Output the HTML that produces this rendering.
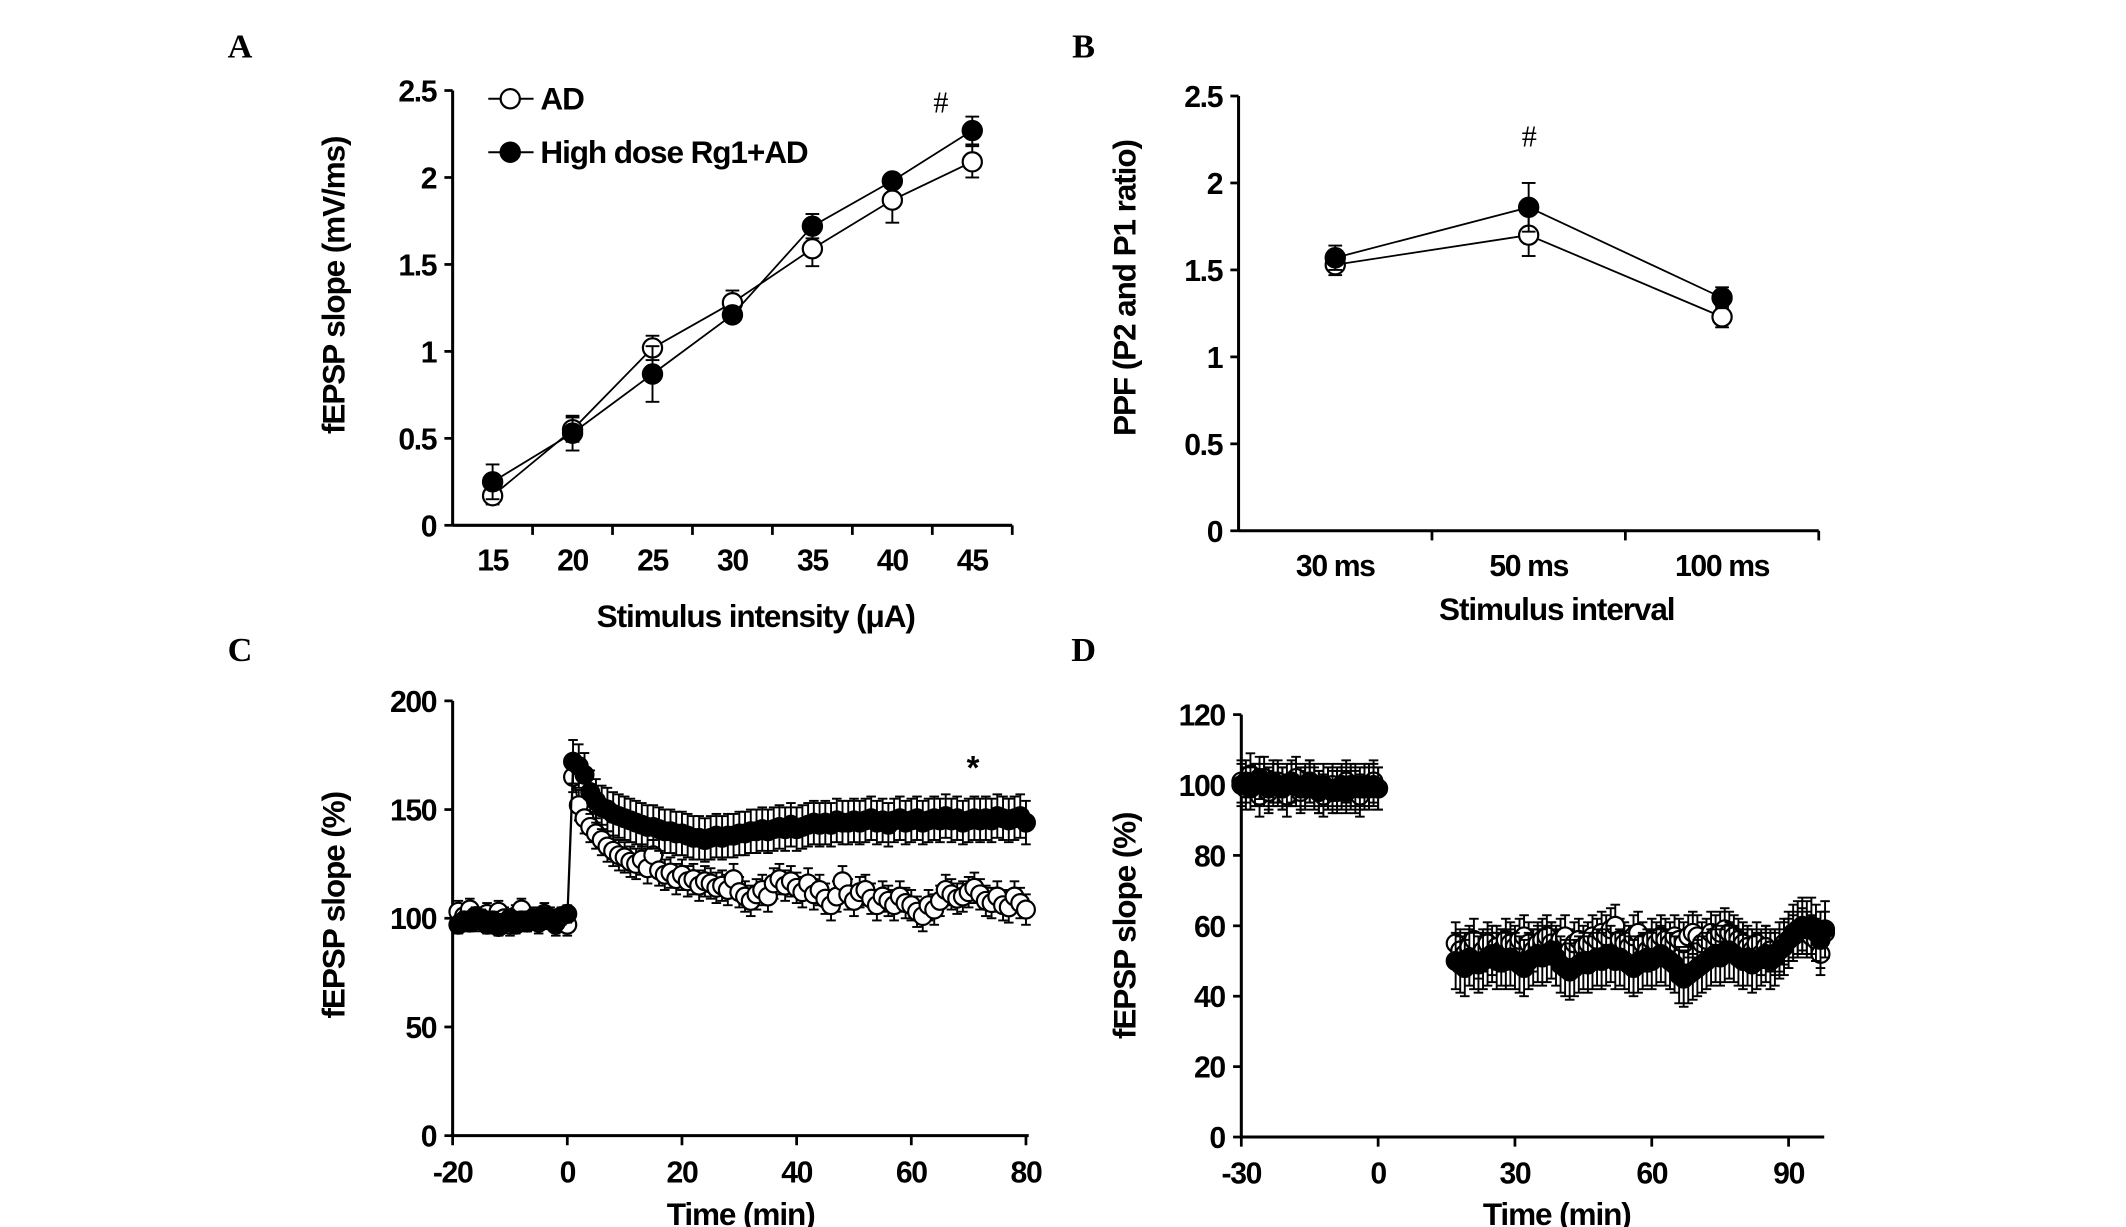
<!DOCTYPE html>
<html><head><meta charset="utf-8">
<style>
html,body{margin:0;padding:0;background:#fff;}
svg{display:block;}
text{font-family:"Liberation Sans",Arial,sans-serif;font-weight:bold;fill:#000;}
.tick{font-size:22px;letter-spacing:-1px;}
.title{font-size:23px;letter-spacing:-0.8px;}
.panel{font-family:"Liberation Serif",serif;font-size:25px;}
</style></head>
<body>
<svg id="fig" width="2126" height="1227" viewBox="0 0 1550 894.6" preserveAspectRatio="none" xmlns="http://www.w3.org/2000/svg"></svg>
<script>
// Panel A data
const catsA = ["15","20","25","30","35","40","45"];
const adA = [0.17,0.55,1.02,1.28,1.59,1.87,2.09];
const adAerr = [0.05,0.07,0.07,0.07,0.10,0.13,0.09];
const rgA = [0.25,0.53,0.87,1.21,1.72,1.98,2.27];
const rgAerr = [0.10,0.10,0.16,0.02,0.07,0.02,0.08];
const ticksA = [0,0.5,1,1.5,2,2.5];
// Panel B data
const catsB = ["30 ms","50 ms","100 ms"];
const adB = [1.53,1.70,1.23];
const adBerr = [0.06,0.12,0.06];
const rgB = [1.57,1.86,1.34];
const rgBerr = [0.07,0.14,0.06];
const ticksB = [0,0.5,1,1.5,2,2.5];
// Panel C data
const timeC = [-19,-18,-17,-16,-15,-14,-13,-12,-11,-10,-9,-8,-7,-6,-5,-4,-3,-2,-1,0,
1,2,3,4,5,6,7,8,9,10,11,12,13,14,15,16,17,18,19,20,21,22,23,24,25,26,27,28,29,30,
31,32,33,34,35,36,37,38,39,40,41,42,43,44,45,46,47,48,49,50,51,52,53,54,55,56,57,58,59,60,
61,62,63,64,65,66,67,68,69,70,71,72,73,74,75,76,77,78,79,80];
const adC = [103,101,104,99,100,102,98,103,100,97,101,104,99,100,98,102,100,97,99,97,
165,152,146,142,139,136,133,131,129,128,126,125,127,123,129,122,120,121,118,120,
117,118,115,117,116,114,115,113,118,112,110,108,111,113,110,116,118,115,117,114,
112,116,111,113,109,106,110,117,111,108,112,113,109,106,110,108,106,110,107,106,
103,101,106,104,108,113,111,109,110,112,114,111,108,107,110,106,105,110,107,104];
const rgC = [97,99,98,101,100,97,99,96,98,100,97,99,98,100,99,101,100,98,101,102,
172,170,166,158,154,151,150,148,147,146,145,144,143,142,142,141,140,140,139,139,
138,137,137,136,137,138,137,138,138,139,139,140,140,141,140,141,142,141,143,141,
142,143,144,143,144,143,145,144,144,145,144,145,146,144,145,143,145,146,144,145,
146,144,145,146,145,147,145,146,144,145,146,145,146,145,147,146,145,146,147,144];
const adCerr = [5,7];
const rgCerr = [4,10];
const ticksCy = [0,50,100,150,200];
const ticksCx = [-20,0,20,40,60,80];
// Panel D data
const timeD = [-30,-29,-28,-27,-26,-25,-24,-23,-22,-21,-20,-19,-18,-17,-16,-15,-14,-13,-12,-11,-10,-9,-8,-7,-6,-5,-4,-3,-2,-1,0,
17,18,19,20,21,22,23,24,25,26,27,28,29,30,31,32,33,34,35,36,37,38,39,40,41,42,43,44,45,46,
47,48,49,50,51,52,53,54,55,56,57,58,59,60,61,62,63,64,65,66,67,68,69,70,71,72,73,74,75,76,
77,78,79,80,81,82,83,84,85,86,87,88,89,90,91,92,93,94,95,96,97,98];
const adD = [101,99,103,100,97,102,98,100,101,99,97,100,102,98,99,101,100,98,97,99,100,98,99,101,100,98,97,99,100,101,99,
55,53,52,54,56,51,53,55,52,54,53,56,55,54,56,57,55,53,55,56,57,55,54,56,57,53,55,56,54,55,
57,56,58,57,59,60,56,55,54,57,58,55,53,56,55,57,56,55,57,56,55,57,58,57,55,56,58,57,58,59,
58,57,56,55,54,53,55,52,54,53,52,53,55,56,57,58,59,58,57,56,52,58];
const rgD = [100,101,99,100,102,100,99,101,100,99,100,101,100,99,100,101,99,98,100,99,98,99,100,98,99,100,99,100,99,100,99,
50,49,48,51,50,49,50,51,52,50,51,50,51,50,49,48,50,51,52,51,52,53,51,49,48,47,48,49,50,49,
50,51,50,51,52,50,51,50,49,48,49,50,51,50,51,52,51,50,49,46,45,46,47,48,49,50,51,52,51,52,
53,52,51,50,51,49,50,51,52,50,51,53,54,56,58,59,60,59,60,58,56,59];
const adDerr = [6,6];
const rgDerr = [6,8];
const ticksDy = [0,20,40,60,80,100,120];
const ticksDx = [-30,0,30,60,90];

const svg = document.getElementById('fig');
const NS = "http://www.w3.org/2000/svg";
function el(tag, attrs, parent){
  const e = document.createElementNS(NS, tag);
  for (const k in attrs) e.setAttribute(k, attrs[k]);
  (parent||svg).appendChild(e);
  return e;
}
function txt(s, x, y, cls, anchor, parent){
  const t = el('text', {x:x, y:y, class:cls, 'text-anchor':anchor||'middle'}, parent);
  t.textContent = s;
  return t;
}
function lin(x0,x1,v0,v1){ return v => x0 + (v - v0) * (x1 - x0) / (v1 - v0); }

function axes(g, x0, x1, y0, y1, ytv, yS, ylabel, ylx, yly){
  el('line',{x1:x0,y1:y0,x2:x0,y2:y1,stroke:'#000','stroke-width':2.2},g);
  el('line',{x1:x0,y1:y0,x2:x1,y2:y0,stroke:'#000','stroke-width':2.2},g);
  ytv.forEach(v=>{
    const y = yS(v);
    el('line',{x1:x0-6,y1:y,x2:x0,y2:y,stroke:'#000','stroke-width':2},g);
    const t = txt(String(v), x0-12, y+8, 'tick', 'end', g);
    
    
  });
  const yl = txt(ylabel, 0, 0, 'title', 'middle', g);
  yl.setAttribute('transform','translate('+ylx+','+yly+') rotate(-90)');
  
  
}
function marker(g, x, y, filled, r){
  const c = el('circle',{cx:x,cy:y,r:r,fill:filled?'#000':'#fff',stroke:'#000','stroke-width':1.6},g);
  
  
}
function errbar(g, x, y, yTop, cap){
  el('line',{x1:x,y1:y,x2:x,y2:yTop,stroke:'#000','stroke-width':1.4},g);
  el('line',{x1:x-cap,y1:yTop,x2:x+cap,y2:yTop,stroke:'#000','stroke-width':1.4},g);
}
function series(g, xs, ys, errs, xS, yS, filled, r, cap, both){
  const pts = xs.map((x,i)=>xS(x)+','+yS(ys[i])).join(' ');
  const pl = el('polyline',{points:pts,fill:'none',stroke:'#000','stroke-width':1.3},g);
  
  
  xs.forEach((x,i)=>{
    const e = errs[i];
    errbar(g, xS(x), yS(ys[i]), yS(ys[i]+e), cap);
    if (both) errbar(g, xS(x), yS(ys[i]), yS(ys[i]-e), cap);
  });
  xs.forEach((x,i)=>marker(g, xS(x), yS(ys[i]), filled, r));
}

// Panel labels
[['A',175,42],['B',790,42],['C',175,482],['D',790,482]].forEach(p=>{
  const t = txt(p[0], p[1], p[2], 'panel', 'middle');
  
  
});

// ---- Panel A ----
(function(){
  const g = el('g',{});
  
  
  const x0=330, x1=738, y0=383, y1=66;
  const yS = lin(y0,y1,0,2.5);
  const band = (x1-x0)/catsA.length;
  const xS = i => x0 + band*(i+0.5);
  axes(g,x0,x1,y0,y1,ticksA,yS,'fEPSP slope (mV/ms)',251,208);
  for(let k=1;k<=catsA.length;k++){ el('line',{x1:x0+band*k,y1:y0,x2:x0+band*k,y2:y0+7,stroke:'#000','stroke-width':2},g); }
  catsA.forEach((c,i)=>{ const t=txt(c,xS(i),416,'tick','middle',g);   });
  const xt = txt('Stimulus intensity (μA)',551,457,'title','middle',g);
   
  const idx = catsA.map((c,i)=>i);
  series(g, idx, adA, adAerr, xS, yS, false, 7, 5, true);
  series(g, idx, rgA, rgAerr, xS, yS, true, 7, 5, true);
  const lg = el('g',{},g);
   
  el('line',{x1:356,y1:72,x2:389,y2:72,stroke:'#000','stroke-width':1.5},lg);
  marker(lg,372,72,false,7);
  const l1 = txt('AD',394,80,'title','start',lg);  
  el('line',{x1:356,y1:111,x2:389,y2:111,stroke:'#000','stroke-width':1.5},lg);
  marker(lg,372,111,true,7);
  const l2 = txt('High dose Rg1+AD',394,119,'title','start',lg);  
  const h = txt('#',686,82,'panel','middle',g); h.style.fontSize='22px'; h.style.fontWeight='normal';
   
})();

// ---- Panel B ----
(function(){
  const g = el('g',{});
  
  
  const x0=903, x1=1326, y0=387, y1=70;
  const yS = lin(y0,y1,0,2.5);
  const band = (x1-x0)/catsB.length;
  const xS = i => x0 + band*(i+0.5);
  axes(g,x0,x1,y0,y1,ticksB,yS,'PPF (P2 and P1 ratio)',828,210);
  for(let k=1;k<=catsB.length;k++){ el('line',{x1:x0+band*k,y1:y0,x2:x0+band*k,y2:y0+7,stroke:'#000','stroke-width':2},g); }
  catsB.forEach((c,i)=>{ const t=txt(c,xS(i),420,'tick','middle',g);   });
  const xt = txt('Stimulus interval',1135,452,'title','middle',g);
   
  const idx = catsB.map((c,i)=>i);
  series(g, idx, adB, adBerr, xS, yS, false, 7, 5, true);
  series(g, idx, rgB, rgBerr, xS, yS, true, 7, 5, true);
  const h = txt('#',1115,107,'panel','middle',g); h.style.fontSize='22px'; h.style.fontWeight='normal';
   
})();

// ---- Panel C ----
(function(){
  const g = el('g',{});
  
  
  const x0=330, x1=750, y0=828, y1=511;
  const yS = lin(y0,y1,0,200);
  const xS = lin(330,748,-20,80);
  axes(g,x0,x1,y0,y1,ticksCy,yS,'fEPSP slope (%)',251,660);
  ticksCx.forEach(v=>{
    el('line',{x1:xS(v),y1:y0,x2:xS(v),y2:y0+7,stroke:'#000','stroke-width':2},g);
    const t=txt(String(v),xS(v),862,'tick','middle',g);  
  });
  const xt = txt('Time (min)',540,893,'title','middle',g);
   
  const eA = timeC.map(t => t<=0 ? adCerr[0] : adCerr[1]);
  const eR = timeC.map(t => t<=0 ? rgCerr[0] : rgCerr[1]);
  series(g, timeC, adC, eA, xS, yS, false, 6.5, 3.5, true);
  series(g, timeC, rgC, eR, xS, yS, true, 6.5, 3.5, true);
  const s = txt('*',709,568,'title','middle',g); s.style.fontSize='24px';
   
})();

// ---- Panel D ----
(function(){
  const g = el('g',{});
  
  
  const x0=905, x1=1330, y0=829, y1=521;
  const yS = lin(y0,y1,0,120);
  const xS = lin(905,1304,-30,90);
  axes(g,x0,x1,y0,y1,ticksDy,yS,'fEPSP slope (%)',828,675);
  ticksDx.forEach(v=>{
    el('line',{x1:xS(v),y1:y0,x2:xS(v),y2:y0+7,stroke:'#000','stroke-width':2},g);
    const t=txt(String(v),xS(v),863,'tick','middle',g);  
  });
  const xt = txt('Time (min)',1135,893,'title','middle',g);
   
  const eA = timeD.map(t => t<=0 ? adDerr[0] : adDerr[1]);
  const eR = timeD.map(t => t<=0 ? rgDerr[0] : rgDerr[1]);
  const split = timeD.indexOf(17);
  series(g, timeD.slice(0,split), adD.slice(0,split), eA.slice(0,split), xS, yS, false, 6.5, 3.5, true);
  series(g, timeD.slice(0,split), rgD.slice(0,split), eR.slice(0,split), xS, yS, true, 6.5, 3.5, true);
  series(g, timeD.slice(split), adD.slice(split), eA.slice(split), xS, yS, false, 6.5, 3.5, true);
  series(g, timeD.slice(split), rgD.slice(split), eR.slice(split), xS, yS, true, 6.5, 3.5, true);
})();
</script>
</body></html>
